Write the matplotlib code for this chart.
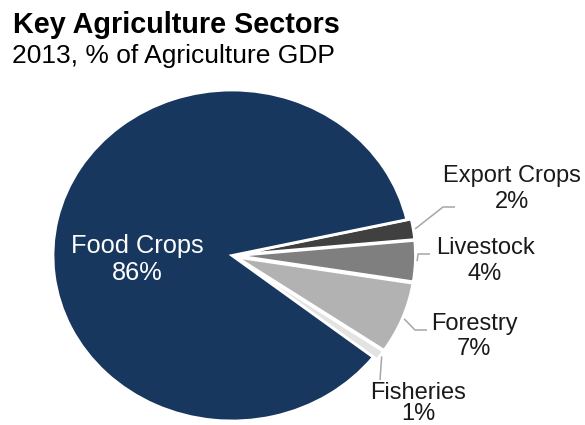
import numpy as np
import matplotlib.pyplot as plt

plt.rcParams['font.family'] = ['Liberation Sans', 'DejaVu Sans']

# sector shares, 2013, % of agriculture GDP (clockwise from the top right)
sectors = ['Export Crops', 'Livestock', 'Forestry', 'Fisheries', 'Food Crops']
shares = [2, 4, 7, 1, 86]
colors = ['#404040', '#7f7f7f', '#b2b2b2', '#e3e3e3', '#17375e']
explode = [0.025, 0.025, 0.025, 0.025, 0]

W, H = 585, 425
# pie centre and radii in pixels (the pie is drawn slightly squashed)
cx, cy, rx, ry = 232, 255.5, 179, 165.5


def to_data(px, py):
    return (px - cx) / rx, (cy - py) / ry


def fig_xy(px, py):
    return px / W, 1 - py / H


fig = plt.figure(figsize=(W / 100, H / 100), dpi=100)
ax = fig.add_axes([0, 0, 1, 1])
wedges, _ = ax.pie(shares, colors=colors, explode=explode, startangle=12.5,
                   counterclock=False,
                   wedgeprops=dict(edgecolor='white', linewidth=2))
ax.set_aspect('auto')
ax.set_xlim(-cx / rx, (W - cx) / rx)
ax.set_ylim((cy - H) / ry, cy / ry)
ax.axis('off')

# leader lines: start just outside each small wedge, then elbow to the label
elbows = {
    'Export Crops': [(443, 207), (455, 207)],
    'Livestock': [(418, 254), (430, 254)],
    'Forestry': [(415, 330), (427, 330)],
    'Fisheries': [(380, 380)],
}
for w, name in zip(wedges, sectors):
    if name not in elbows:
        continue
    mid = np.deg2rad((w.theta1 + w.theta2) / 2)
    xs = [1.035 * np.cos(mid)]
    ys = [1.035 * np.sin(mid)]
    for px, py in elbows[name]:
        x, y = to_data(px, py)
        xs.append(x)
        ys.append(y)
    ax.plot(xs, ys, color='#a6a6a6', lw=1.1, solid_capstyle='butt')

# labels: name, share, centre x, baselines of the two lines, size
label_pos = {
    'Export Crops': (512, 182, 208, 17),
    'Livestock': (485, 254, 280, 17),
    'Forestry': (474, 330, 355, 17),
    'Fisheries': (418, 399, 420, 17),
    'Food Crops': (137, 253, 280, 18.3),
}
for name, val in zip(sectors, shares):
    x, b1, b2, fs = label_pos[name]
    c = 'white' if name == 'Food Crops' else '#1a1a1a'
    fig.text(*fig_xy(x, b1), name, ha='center', va='baseline', fontsize=fs, color=c)
    fig.text(*fig_xy(x, b2), f'{val}%', ha='center', va='baseline', fontsize=fs, color=c)

fig.text(*fig_xy(13, 33), 'Key Agriculture Sectors', ha='left', va='baseline',
         fontsize=20.7, fontweight='bold', color='black')
fig.text(*fig_xy(12, 63), '2013, % of Agriculture GDP', ha='left', va='baseline',
         fontsize=19, color='black')

fig.savefig('out.png', dpi=100, facecolor='white')
